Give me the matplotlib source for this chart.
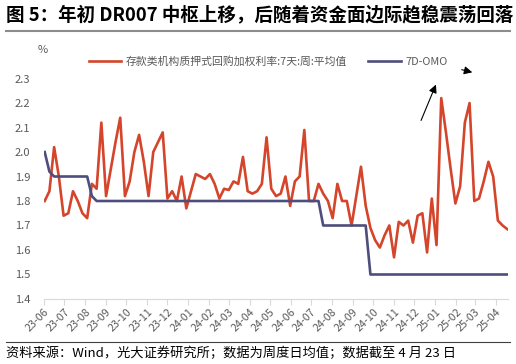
import matplotlib
matplotlib.use("Agg")
import matplotlib.pyplot as plt
import matplotlib.dates as mdates
import pandas as pd

plt.rcParams["font.family"] = ["Noto Sans CJK SC", "DejaVu Sans"]

# 周度数据（2023-06 至 2025-04-18）
start_date = "2023-06-02"
dr007 = [
    1.80, 1.84, 2.02, 1.90, 1.74, 1.75, 1.84, 1.80, 1.75, 1.73,
    1.87, 1.85, 2.12, 1.82, 1.93, 2.04, 2.14, 1.82, 1.88, 2.00,
    2.07, 1.96, 1.82, 2.00, 2.04, 2.08, 1.81, 1.84, 1.80, 1.90,
    1.77, 1.84, 1.91, 1.90, 1.89, 1.91, 1.87, 1.81, 1.85, 1.845,
    1.88, 1.87, 1.98, 1.84, 1.83, 1.84, 1.87, 2.06, 1.85, 1.82,
    1.83, 1.90, 1.78, 1.88, 1.90, 2.09, 1.80, 1.80, 1.87, 1.83,
    1.80, 1.73, 1.87, 1.80, 1.80, 1.70, 1.82, 1.94, 1.78, 1.69,
    1.64, 1.61, 1.66, 1.70, 1.57, 1.715, 1.70, 1.72, 1.63, 1.74,
    1.75, 1.59, 1.81, 1.62, 2.22, 2.08, 1.93, 1.79, 1.86, 2.12,
    2.20, 1.80, 1.81, 1.88, 1.96, 1.90, 1.72, 1.70, 1.685,
]
omo = (
    [2.00, 1.92] + [1.90] * 8 + [1.82] + [1.80] * 48
    + [1.70] * 10 + [1.50] * 30
)
dates = pd.date_range(start_date, periods=len(dr007), freq="7D")

red = "#d4452b"
navy = "#4e4e7c"
gray = "#595959"

fig = plt.figure(figsize=(5.16, 3.64), dpi=100)
ax = fig.add_axes([0.0853, 0.1786, 0.8992, 0.673])

ax.plot(dates, dr007, color=red, lw=1.9, solid_joinstyle="round",
        label="存款类机构质押式回购加权利率:7天:周:平均值")
ax.plot(dates, omo, color=navy, lw=1.9, label="7D-OMO")

ax.set_ylim(1.4, 2.4)
ax.set_yticks([1.4, 1.5, 1.6, 1.7, 1.8, 1.9, 2.0, 2.1, 2.2, 2.3])
ax.set_yticklabels([f"{v:.1f}" for v in ax.get_yticks()])
ax.set_xlim(pd.Timestamp("2023-06-01"), pd.Timestamp("2025-04-19"))
ax.xaxis.set_major_locator(mdates.MonthLocator())
ax.xaxis.set_major_formatter(mdates.DateFormatter("%y-%m"))

for s in ["top", "right", "left"]:
    ax.spines[s].set_visible(False)
ax.spines["bottom"].set_color("#d9d9d9")
ax.tick_params(axis="y", length=0, labelsize=8, colors=gray, pad=10)
ax.tick_params(axis="x", length=4, color="#d9d9d9", labelsize=7.8,
               labelcolor=gray, pad=1.5)
for lab in ax.get_xticklabels():
    lab.set_rotation(45)
    lab.set_ha("right")
    lab.set_rotation_mode("anchor")

ax.legend(loc="upper left", bbox_to_anchor=(0.075, 1.03), ncol=2, frameon=False,
          fontsize=7.8, labelcolor=gray, handlelength=3.0, handletextpad=0.4,
          columnspacing=2.0)

fig.text(38 / 516, 1 - 50 / 364, "%", fontsize=8, color=gray, ha="left", va="center")

# 箭头标注
ax.annotate("", xy=(437 / 516, 1 - 82 / 364), xycoords="figure fraction",
            xytext=(420 / 516, 1 - 123 / 364), textcoords="figure fraction",
            arrowprops=dict(arrowstyle="-|>", color="black", lw=0.8,
                            mutation_scale=12))
ax.annotate("", xy=(475 / 516, 1 - 73 / 364), xycoords="figure fraction",
            xytext=(459 / 516, 1 - 69 / 364), textcoords="figure fraction",
            arrowprops=dict(arrowstyle="-|>", color="black", lw=0.8,
                            mutation_scale=12))

# 标题与来源
fig.text(6 / 516, 1 - 15 / 364, "图 5：年初 DR007 中枢上移，后随着资金面边际趋稳震荡回落",
         fontsize=13.3, fontweight="bold", color="black", ha="left", va="center")
fig.add_artist(plt.Line2D([6 / 516, 510 / 516], [1 - 31 / 364, 1 - 31 / 364],
                          color="#8c8c8c", lw=1.5))
fig.add_artist(plt.Line2D([6 / 516, 510 / 516], [1 - 342 / 364, 1 - 342 / 364],
                          color="#404040", lw=0.8))
fig.text(6 / 516, 1 - 353 / 364,
         "资料来源：Wind，光大证券研究所；数据为周度日均值；数据截至 4 月 23 日",
         fontsize=9.5, color="black", ha="left", va="center")

fig.savefig("out.png", dpi=100)
